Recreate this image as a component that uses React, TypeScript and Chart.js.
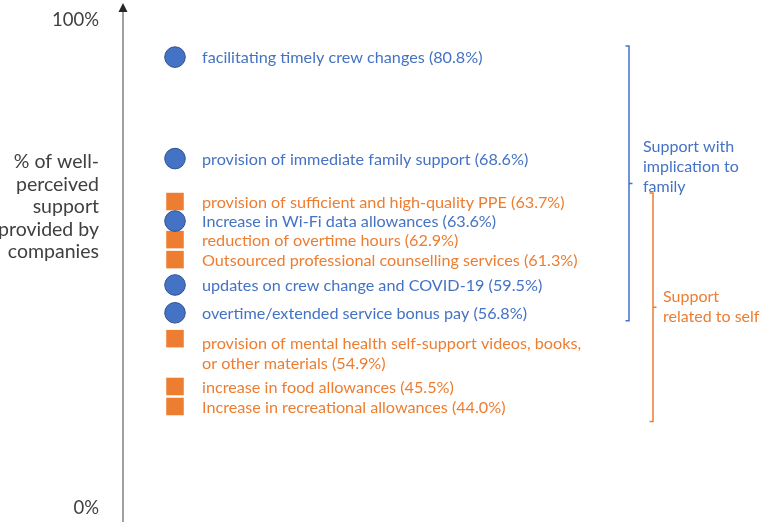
import { useEffect, useRef } from 'react';
import { Chart, registerables } from 'chart.js';

Chart.register(...registerables);

const categories = [
  'facilitating timely crew changes',
  'provision of immediate family support',
  'provision of sufficient and high-quality PPE',
  'Increase in Wi-Fi data allowances',
  'reduction of overtime hours',
  'Outsourced professional counselling services',
  'updates on crew change and COVID-19',
  'overtime/extended service bonus pay',
  'provision of mental health self-support videos, books, or other materials',
  'increase in food allowances',
  'Increase in recreational allowances',
];
const percentages = [80.8, 68.6, 63.7, 63.6, 62.9, 61.3, 59.5, 56.8, 54.9, 45.5, 44.0];
const groups = ['family', 'family', 'self', 'family', 'self', 'self', 'family', 'family', 'self', 'self', 'self'];
// vertical level of each marker as read on the drawn 0–100% axis
const plotLevels = [92.4, 71.6, 62.8, 58.8, 55.0, 50.9, 45.7, 40.0, 34.7, 24.9, 20.8];
const yTicks = [0, 100];
const yTitle = ['% of well-', 'perceived', 'support', 'provided by', 'companies'];
const familyGroupLabel = ['Support with', 'implication to', 'family'];
const selfGroupLabel = ['Support', 'related to self'];

const FONT = 'Lato, "Open Sans", sans-serif';
const BLUE = '#4472C4';
const BLUE_EDGE = '#2F528F';
const ORANGE = '#ED7D31';

function wrapText(ctx: CanvasRenderingContext2D, text: string, maxW: number): string[] {
  const words = text.split(' ');
  const lines: string[] = [];
  let cur = '';
  for (const w of words) {
    const t = cur ? cur + ' ' + w : w;
    if (ctx.measureText(t).width > maxW && cur) {
      lines.push(cur);
      cur = w;
    } else cur = t;
  }
  if (cur) lines.push(cur);
  return lines;
}

const overlay = {
  id: 'overlay',
  afterDraw(chart: any) {
    const ctx: CanvasRenderingContext2D = chart.ctx;
    const axisX = chart.chartArea.left;
    ctx.save();
    // axis line with arrow
    ctx.strokeStyle = '#7f7f7f';
    ctx.lineWidth = 1.5;
    ctx.beginPath();
    ctx.moveTo(axisX, chart.height);
    ctx.lineTo(axisX, 10);
    ctx.stroke();
    ctx.fillStyle = '#262626';
    ctx.beginPath();
    ctx.moveTo(axisX, 3);
    ctx.lineTo(axisX - 4.5, 12);
    ctx.lineTo(axisX + 4.5, 12);
    ctx.closePath();
    ctx.fill();

    // y title
    ctx.fillStyle = '#404040';
    ctx.font = `19.5px ${FONT}`;
    ctx.textAlign = 'right';
    ctx.textBaseline = 'middle';
    const lh = 22.5;
    const cy = 207;
    yTitle.forEach((l, i) => ctx.fillText(l, axisX - 24, cy + (i - (yTitle.length - 1) / 2) * lh));

    // point labels
    ctx.textAlign = 'left';
    ctx.font = `16.2px ${FONT}`;
    const pos: { x: number; y: number; g: string }[] = [];
    chart.data.datasets.forEach((ds: any, di: number) => {
      const meta = chart.getDatasetMeta(di);
      meta.data.forEach((el: any, j: number) => {
        const idx = ds.indices[j];
        pos[idx] = { x: el.x, y: el.y, g: groups[idx] };
      });
    });
    pos.forEach((p, i) => {
      ctx.fillStyle = p.g === 'family' ? BLUE : ORANGE;
      const text = `${categories[i]} (${percentages[i].toFixed(1)}%)`;
      const lines = wrapText(ctx, text, 396);
      lines.forEach((l, k) => ctx.fillText(l, p.x + 27, p.y + 1 + (lines.length > 1 ? 4 : 0) + k * 20));
    });

    // brackets
    const drawBracket = (g: string, x: number, padTop: number, padBot: number, color: string, label: string[], lx: number, lyOff: number) => {
      const ys = pos.filter((p) => p.g === g).map((p) => p.y);
      const top = Math.min(...ys) - padTop;
      const bot = Math.max(...ys) + padBot;
      const mid = (top + bot) / 2;
      ctx.strokeStyle = color;
      ctx.lineWidth = 1.5;
      ctx.beginPath();
      ctx.moveTo(x - 3.5, top);
      ctx.lineTo(x, top);
      ctx.lineTo(x, bot);
      ctx.lineTo(x - 3.5, bot);
      ctx.moveTo(x, mid);
      ctx.lineTo(x + 3.5, mid);
      ctx.stroke();
      ctx.fillStyle = color;
      ctx.font = `16px ${FONT}`;
      ctx.textAlign = 'left';
      const c = mid + lyOff;
      label.forEach((l, k) => ctx.fillText(l, lx, c + (k - (label.length - 1) / 2) * 20));
    };
    drawBracket('family', 629, 11, 8, BLUE, familyGroupLabel, 643, -17);
    drawBracket('self', 653, 8.5, 15, ORANGE, selfGroupLabel, 663, 0);
    ctx.restore();
  },
};

export default function App() {
  const ref = useRef<HTMLCanvasElement>(null);
  useEffect(() => {
    document.body.style.margin = '0';
    const mk = (g: string) => {
      const indices = categories.map((_, i) => i).filter((i) => groups[i] === g);
      return {
        indices,
        data: indices.map((i) => ({ x: 1, y: plotLevels[i] })),
      };
    };
    const fam = mk('family');
    const self = mk('self');
    const chart = new Chart(ref.current!, {
      type: 'scatter',
      data: {
        datasets: [
          {
            label: 'Support with implication to family',
            ...fam,
            pointStyle: 'circle',
            pointRadius: 10.3,
            backgroundColor: BLUE,
            borderColor: BLUE_EDGE,
            borderWidth: 1,
          } as any,
          {
            label: 'Support related to self',
            ...self,
            pointStyle: 'rect',
            pointRadius: 12.4,
            backgroundColor: ORANGE,
            borderColor: ORANGE,
            borderWidth: 0,
          } as any,
        ],
      },
      options: {
        animation: false,
        responsive: false,
        clip: false as any,
        layout: { padding: { top: 20, bottom: 14, left: 0, right: 120 } },
        plugins: { legend: { display: false }, tooltip: { enabled: false } },
        scales: {
          x: { type: 'linear', min: 0, max: 10, display: false },
          y: {
            type: 'linear',
            min: 0,
            max: 100,
            grid: { display: false, drawTicks: false },
            border: { display: false },
            afterBuildTicks: (s: any) => {
              s.ticks = yTicks.map((v) => ({ value: v }));
            },
            afterFit: (s: any) => {
              s.width = 123;
              s.paddingTop = 0;
              s.paddingBottom = 0;
            },
            ticks: {
              padding: 24,
              color: '#404040',
              font: { family: FONT, size: 18.5 },
              callback: (v: any) => `${v}%`,
            },
          },
        },
      },
      plugins: [overlay],
    });
    return () => chart.destroy();
  }, []);
  return <canvas ref={ref} width={763} height={522} />;
}
